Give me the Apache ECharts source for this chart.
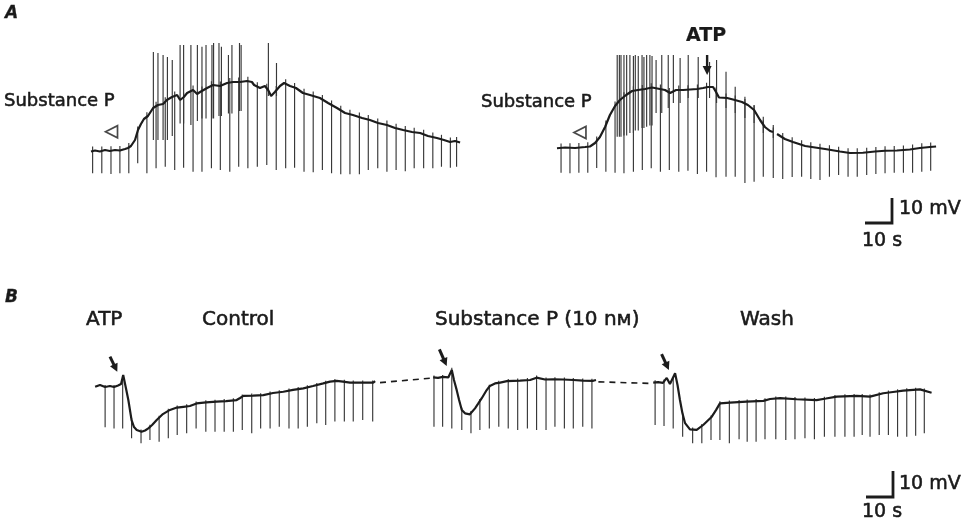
<!DOCTYPE html>
<html><head><meta charset="utf-8">
<script src="https://cdn.jsdelivr.net/npm/echarts@6/dist/echarts.min.js"></script>
<style>html,body{margin:0;padding:0;background:#fff;}#c{width:968px;height:523px;}</style>
</head><body><div id="c"></div>
<script>
// ---------- Panel A, left record (time in s, membrane potential in mV relative to rest) ----------
const aLeftT = [0,1.5,3.3,5.2,7.0,8.9,10.7,12.6,13.7,14.8,16.3,17.4,18.5,19.6,21.1,23.0,24.8,26.7,28.1,30.0,31.9,33.0,34.4,35.6,37.8,39.3,40.4,43.0,45.2,47.8,50.4,52.6,55.2,57.8,59.6,60.4,62.6,64.4,65.6,66.7,68.1,70.0,71.5,73.7,75.9,78.5,81.1,84.8,87.8,91.1,94.1,97.0,100.4,103.3,106.3,109.6,112.6,115.6,118.9,121.9,124.8,128.1,130.7,133.0,134.8,136.7];
const aLeftV = [-0.2,0.2,-0.2,0.4,0,0.4,0.2,0.8,1.2,2.0,4.4,8.4,10.8,12.8,14.0,17.2,18.4,18.8,20.4,21.6,22.4,20.4,21.6,23.2,24.4,22.8,23.6,25.2,26.4,26.0,27.2,27.6,27.6,28.0,27.6,26.4,25.2,26.0,24.4,22.0,23.6,26.0,27.2,26.0,25.2,23.2,22.4,21.2,19.2,17.2,15.2,14.4,13.2,12.4,11.2,10.4,9.2,8.4,7.6,7.2,6.0,5.2,4.4,3.6,4.0,3.4];
const aLeftPulseT = [0.6,4.0,7.4,10.7,14.0,17.3,20.7,24.1,27.5,31.0,34.3,37.8,41.1,44.6,47.9,51.4,54.7,58.1,61.6,65.1,68.6,72.1,75.4,78.9,82.3,85.7,89.1,92.5,95.9,99.4,102.7,106.2,109.6,113.0,116.4,119.7,123.2,126.6,129.8,133.1,135.4];
const aLeftPulseBottom = [-8.9,-8.9,-9.2,-8.9,-8.9,-4.9,-8.9,-6.9,-6.3,-7.6,-6.7,-8.3,-8.3,-6.9,-7.6,-8.3,-6.3,-6.9,-6.3,-5.6,-7.6,-6.9,-6.7,-8.3,-8.5,-7.6,-8.9,-9.3,-9.3,-9.3,-7.6,-6.9,-8.3,-7.6,-8.1,-6.9,-6.9,-6.9,-6.3,-6.7,-6.3];
const aLeftSpikeT = [23.1,24.8,26.7,28.3,30.1,33.0,34.3,37.0,39.4,41.1,42.6,44.8,45.4,47.4,48.3,50.9,52.2,55.0,55.6,65.7,68.7];
const aLeftSpikeTop = [39.6,39.2,38.4,37.6,36.4,42.4,42.4,42.4,42.4,41.7,42.4,42.4,43.2,43.2,41.7,38.4,42.4,43.2,42.4,43.2,35.2];
const aLeftSpikeBottom = [4.4,4.4,4.4,4.4,6,11,11,10.4,12,13,13,13,13,14,14,15,15,16,16,22,22];
const aLeftMarkT = [7.6], aLeftMarkV = [7.7];

// ---------- Panel A, right record ----------
const aRightT = [0,3.0,6.7,10.4,12.2,14.1,15.9,17.8,19.6,21.5,23.3,25.6,27.8,30.0,32.6,35.2,38.1,40.0,41.9,44.1,46.7,49.3,51.9,54.1,55.9,57.8,58.9,60.0,63.0,65.9,68.5,70.7,73.0,75.2,77.0,78.9,80.0,80.7,81.5,84.4,87.4,91.9,95.6,99.3,104.8,108.5,113.3,117.8,121.5,125.9,130.7,134.4,138.1,140.4];
const aRightV = [-0.1,0.2,0,0.4,0.6,2.0,4.4,8.4,13.2,16.8,19.2,21.2,22.8,23.2,23.6,24.2,23.6,23.2,22.0,23.2,23.2,23.4,23.6,24.0,24.4,24.4,22.4,20.2,20.0,19.2,18.4,17.2,15.2,11.2,8.4,6.8,6.4,null,5.6,3.6,2.4,0.8,0.2,-0.4,-1.4,-2.0,-1.9,-1.4,-1.1,-1.0,-0.6,0,0.4,0.6];
const aRightPulseT = [1.5,4.8,8.1,11.4,14.7,18.1,21.5,24.8,28.3,31.6,34.9,38.3,41.6,45.1,48.5,52.0,55.4,58.9,62.6,66.0,69.6,73.0,76.4,80.1,83.6,87.1,90.6,94.0,97.4,100.9,104.3,107.8,111.2,114.7,118.1,121.5,124.9,128.3,131.7,135.1,138.4];
const aRightPulseBottom = [-9.9,-10.1,-9.9,-9.9,-8.0,-9.5,-9.9,-10.1,-9.5,-8.8,-8.1,-9.5,-8.8,-9.5,-9.1,-10.4,-9.5,-11.7,-11.5,-11.5,-14.0,-13.5,-11.5,-12.0,-12.4,-11.6,-11.5,-12.4,-12.8,-11.5,-10.8,-11.5,-11.5,-10.8,-10.4,-10.1,-9.9,-9.9,-9.9,-9.5,-9.1];
const aRightSpikeT = [22.3,23.1,23.7,24.8,25.8,27.0,28.3,29.0,30.1,31.5,32.2,33.2,34.4,35.2,36.7,38.8,41.2,43.1,45.6,48.6,52.3,56.5,59.1,62.6,66.0,69.6,73.0,76.4,80.1];
const aRightSpikeTop = [37.2,37.2,37.2,37.2,37.2,37.2,36.8,37.2,36.8,37.2,36.4,37.2,37.2,36.8,35.2,37.2,37.2,37.2,36.0,37.2,36.4,34.4,35.2,30.5,24.5,20.5,17.2,12.5,9.2];
const aRightSpikeBottom = [4.5,4.5,4.5,5,5,6,6,7,7,8,8,8.5,9,9,14,14,16,18,18,20,20,20,18,16,14,12,10,6,4];
const aRightMarkT = [8.5], aRightMarkV = [6.2];
const aRightAtpT = [55.6], aRightAtpFrom = [37.2], aRightAtpTo = [29.2];

// ---------- Panel B (display time in s; segments separated by breaks) ----------
const bCtrlT = [1.9,3.7,5.6,7.4,8.9,10.4,11.5,12.3,13.3,14.2,15.4,16.3,17.3,19.1,20.4,21.6,23.0,24.7,27.0,29.6,32.2,34.6,37.0,39.5,43.0,46.9,50.4,54.3,55.6,56.8,60.4,64.2,67.8,71.6,75.2,79.0,82.6,86.4,88.9,91.4,93.7,96.3,100.0,104.9,105.6];
const bCtrlV = [-0.3,0.4,-0.4,0,-0.4,0.2,0.8,4.2,-0.8,-5.4,-13.1,-15.8,-16.9,-17.6,-17.1,-16.3,-15.0,-13.1,-10.8,-9.2,-8.3,-8.0,-7.7,-6.7,-6.3,-6.0,-5.8,-5.4,-4.6,-3.8,-3.7,-3.5,-2.7,-2.2,-1.5,-0.9,0,1.0,1.7,2.0,1.7,1.3,1.3,1.3,1.9];
const bCtrlPulseT = [5.6,8.9,12.1,15.4,18.9,22.2,25.6,29.0,32.3,35.8,39.3,42.9,46.3,49.7,53.1,56.4,59.9,63.2,66.7,70.1,73.7,77.1,80.5,84.0,87.3,90.7,94.2,97.5,101.0,104.7];
const bCtrlPulseBottom = [-15.9,-16.3,-16.3,-20.1,-22.0,-20.8,-21.4,-20.1,-18.8,-18.2,-16.3,-17.6,-17.6,-17.6,-17.6,-16.9,-18.2,-16.3,-16.3,-15.7,-16.3,-16.3,-15.7,-14.3,-15.0,-13.7,-13.7,-13.7,-13.1,-13.7];
const bSubPT = [127.1,128.9,130.7,132.7,134.0,134.8,135.8,136.7,137.7,138.9,140.7,142.6,143.7,145.1,146.7,148.1,150.0,151.9,154.4,156.8,159.3,163.0,165.4,168.5,171.6,175.2,179.0,182.6,186.4,187.4];
const bSubPV = [3.3,3.1,3.5,3.3,6.2,2.3,-1.5,-5.4,-9.2,-10.5,-10.9,-8.6,-6.9,-4.7,-1.9,0,1.0,1.3,1.9,2.0,2.1,2.3,3.2,2.5,2.6,2.5,2.3,2.1,2.0,2.3];
const bSubPPulseT = [127.4,130.6,134.0,137.7,141.1,144.4,147.9,151.4,154.9,158.4,162.0,165.4,168.9,172.2,175.7,179.0,182.5,185.9];
const bSubPPulseBottom = [-15.7,-15.7,-16.3,-16.9,-18.2,-16.9,-16.3,-15.7,-16.3,-16.9,-16.3,-16.9,-16.9,-15.7,-16.3,-16.3,-15.7,-16.3];
const bWashT = [208.6,210.4,212.2,213.6,214.8,215.4,216.7,217.6,218.5,219.4,220.4,222.2,224.7,227.1,230.3,231.9,233.3,237.0,243.2,249.4,251.9,255.6,261.7,269.1,272.6,276.6,284.0,288.9,293.8,297.4,301.2,307.4,311.7];
const bWashV = [1.3,1.5,1.2,3.1,0.8,0.4,4.9,0.4,-5.4,-10.4,-14.3,-16.7,-16.9,-15.0,-11.8,-9.2,-6.7,-6.4,-6.0,-5.7,-5.0,-4.7,-5.1,-5.4,-4.8,-4.1,-3.8,-4.1,-2.8,-2.3,-1.8,-1.3,-2.6];
const bWashPulseT = [209.3,212.6,216.0,219.5,223.2,226.6,230.0,233.3,236.8,240.4,243.4,246.7,250.0,254.0,257.7,261.1,264.8,268.3,272.0,275.9,279.6,283.0,286.0,288.9,292.3,295.7,299.1,302.5,305.8,309.0];
const bWashPulseBottom = [-15.0,-15.4,-16.3,-19.5,-22.0,-22.0,-20.8,-20.8,-22.0,-20.5,-21.4,-21.4,-20.5,-20.5,-20.8,-20.5,-20.1,-20.5,-19.5,-19.5,-19.5,-19.5,-18.8,-19.5,-18.8,-18.8,-19.5,-19.5,-19.1,-18.2];
const bBreak1T = [107.4,125.9], bBreak1V = [1.3,3.0];
const bBreak2T = [188.3,207.4], bBreak2V = [1.6,1.0];
// ATP application arrows (tail -> tip)
const bAtpTailT = [7.4,129.4,211.7], bAtpTailV = [11.3,14.1,12.3];
const bAtpTipT = [10.1,132.1,214.4], bAtpTipV = [5.5,7.7,6.2];
// calibration: 10 s, 10 mV
const scaleT = [0,10,10], scaleV = [0,0,10];

// ---------- helpers ----------
const INK = '#1c1c1c';
const FONT = '"DejaVu Sans", sans-serif';
function pairs(ts, vs){ return ts.map((t,i)=>[t, vs[i]==null ? '-' : vs[i]]); }
function valueAt(ts, vs, t){
  for (let i=0;i<ts.length-1;i++){
    if (vs[i]==null || vs[i+1]==null) continue;
    if (t>=ts[i] && t<=ts[i+1]){ const f=(t-ts[i])/(ts[i+1]-ts[i]); return vs[i]+f*(vs[i+1]-vs[i]); }
  }
  let bi=0, bd=Infinity;
  ts.forEach((x,i)=>{ if(vs[i]!=null && Math.abs(x-t)<bd){bd=Math.abs(x-t);bi=i;} });
  return vs[bi];
}
function pulseData(pt, pb, ts, vs, tick){ return pt.map((t,i)=>[t, pb[i], valueAt(ts,vs,t)+tick]); }
function trace(g, ts, vs){
  return {type:'line', xAxisIndex:g, yAxisIndex:g, data:pairs(ts,vs), symbol:'none', z:4,
    connectNulls:false, lineStyle:{width:2.2, color:INK}, silent:true};
}
function vlines(g, data, color, width){
  return {type:'custom', xAxisIndex:g, yAxisIndex:g, data:data, z:3, silent:true, encode:{x:0, y:[1,2]},
    renderItem:function(p, api){
      const a=api.coord([api.value(0), api.value(1)]), b=api.coord([api.value(0), api.value(2)]);
      return {type:'line', shape:{x1:a[0],y1:a[1],x2:b[0],y2:b[1]}, style:{stroke:color, lineWidth:width}};
    }};
}
function arrows(g, data, shaft, hl, hw){
  return {type:'custom', xAxisIndex:g, yAxisIndex:g, data:data, z:5, silent:true, encode:{x:[0,2], y:[1,3]},
    renderItem:function(p, api){
      const a=api.coord([api.value(0), api.value(1)]), b=api.coord([api.value(2), api.value(3)]);
      const dx=b[0]-a[0], dy=b[1]-a[1], L=Math.hypot(dx,dy), ux=dx/L, uy=dy/L;
      const base=[b[0]-ux*hl, b[1]-uy*hl];
      return {type:'group', children:[
        {type:'line', shape:{x1:a[0],y1:a[1],x2:base[0]+ux*1,y2:base[1]+uy*1}, style:{stroke:INK, lineWidth:shaft}},
        {type:'polygon', shape:{points:[[b[0],b[1]],[base[0]-uy*hw, base[1]+ux*hw],[base[0]+uy*hw, base[1]-ux*hw]]}, style:{fill:INK}}
      ]};
    }};
}
function txt(x, y, s, font, align, heavy){
  return {type:'text', x:x, y:y, silent:true, style:{text:s, font:font, fill:'#1a1a1a',
    stroke:'#1a1a1a', lineWidth:heavy==null?0.55:heavy,
    align:align||'left', textAlign:align||'left', verticalAlign:'middle', textVerticalAlign:'middle'}};
}

const ax = (g, min, max) => ({type:'value', gridIndex:g, min:min, max:max, show:false});

const option = {
  backgroundColor:'#ffffff',
  animation:false,
  grid:[
    {left:91, top:41, width:369.9, height:140},
    {left:557, top:43, width:383.4, height:145},
    {left:90, top:347, width:853.2, height:101.4},
    {left:865, top:198, width:27, height:25},
    {left:866, top:471, width:27, height:26}
  ],
  xAxis:[ax(0,0,137), ax(1,0,142), ax(2,0,316), ax(3,0,10), ax(4,0,10)],
  yAxis:[ax(0,-12,44), ax(1,-16,42), ax(2,-24,15), ax(3,0,10), ax(4,0,10)],
  series:[
    // A left
    vlines(0, pulseData(aLeftPulseT, aLeftPulseBottom, aLeftT, aLeftV, 1.8), '#383838', 1.15),
    vlines(0, aLeftSpikeT.map((t,i)=>[t, aLeftSpikeBottom[i], aLeftSpikeTop[i]]), '#383838', 1.15),
    trace(0, aLeftT, aLeftV),
    {type:'scatter', xAxisIndex:0, yAxisIndex:0, data:pairs(aLeftMarkT, aLeftMarkV), symbol:'triangle', symbolRotate:90,
      symbolSize:[12,12], itemStyle:{color:'#fff', borderColor:INK, borderWidth:1.7}, silent:true, z:6},
    // A right
    vlines(1, pulseData(aRightPulseT, aRightPulseBottom, aRightT, aRightV, 1.8), '#383838', 1.15),
    vlines(1, aRightSpikeT.map((t,i)=>[t, aRightSpikeBottom[i], aRightSpikeTop[i]]), '#383838', 1.15),
    trace(1, aRightT, aRightV),
    {type:'scatter', xAxisIndex:1, yAxisIndex:1, data:pairs(aRightMarkT, aRightMarkV), symbol:'triangle', symbolRotate:90,
      symbolSize:[12,12], itemStyle:{color:'#fff', borderColor:INK, borderWidth:1.7}, silent:true, z:6},
    arrows(1, aRightAtpT.map((t,i)=>[t, aRightAtpFrom[i], t, aRightAtpTo[i]]), 2.4, 9, 4.5),
    // B
    vlines(2, pulseData(bCtrlPulseT, bCtrlPulseBottom, bCtrlT, bCtrlV, 0.8), '#383838', 1.15),
    vlines(2, pulseData(bSubPPulseT, bSubPPulseBottom, bSubPT, bSubPV, 0.8), '#383838', 1.15),
    vlines(2, pulseData(bWashPulseT, bWashPulseBottom, bWashT, bWashV, 0.8), '#383838', 1.15),
    trace(2, bCtrlT, bCtrlV),
    trace(2, bSubPT, bSubPV),
    trace(2, bWashT, bWashV),
    {type:'line', xAxisIndex:2, yAxisIndex:2, data:pairs(bBreak1T, bBreak1V), symbol:'none', silent:true,
      lineStyle:{width:1.6, color:INK, type:[6,5]}},
    {type:'line', xAxisIndex:2, yAxisIndex:2, data:pairs(bBreak2T, bBreak2V), symbol:'none', silent:true,
      lineStyle:{width:1.6, color:INK, type:[6,5]}},
    arrows(2, bAtpTipT.map((t,i)=>[bAtpTailT[i], bAtpTailV[i], t, bAtpTipV[i]]), 3, 8, 4.2),
    // calibration bars
    {type:'line', xAxisIndex:3, yAxisIndex:3, data:pairs(scaleT, scaleV), symbol:'none', clip:false, silent:true,
      lineStyle:{width:2.8, color:INK, join:'miter'}},
    {type:'line', xAxisIndex:4, yAxisIndex:4, data:pairs(scaleT, scaleV), symbol:'none', clip:false, silent:true,
      lineStyle:{width:2.8, color:INK, join:'miter'}}
  ],
  graphic:[
    txt(5, 14, 'A', 'italic bold 17px '+FONT, 'left', 0.3),
    txt(5, 298, 'B', 'italic bold 17px '+FONT, 'left', 0.3),
    txt(4, 101, 'Substance P', '18px '+FONT),
    txt(481, 102, 'Substance P', '18px '+FONT),
    txt(706, 36, 'ATP', 'bold 19px '+FONT, 'center', 0.2),
    txt(899, 209, '10 mV', '19px '+FONT),
    txt(862, 241, '10 s', '19px '+FONT),
    txt(86, 320, 'ATP', '20px '+FONT),
    txt(202, 320, 'Control', '20px '+FONT),
    txt(435, 320, 'Substance P (10 nм)', '20px '+FONT),
    txt(740, 320, 'Wash', '20px '+FONT),
    txt(899, 484, '10 mV', '19px '+FONT),
    txt(862, 512, '10 s', '19px '+FONT)
  ]
};
const chart = echarts.init(document.getElementById('c'), null, {renderer:'canvas', width:968, height:523});
chart.setOption(option);
</script>
</body></html>
